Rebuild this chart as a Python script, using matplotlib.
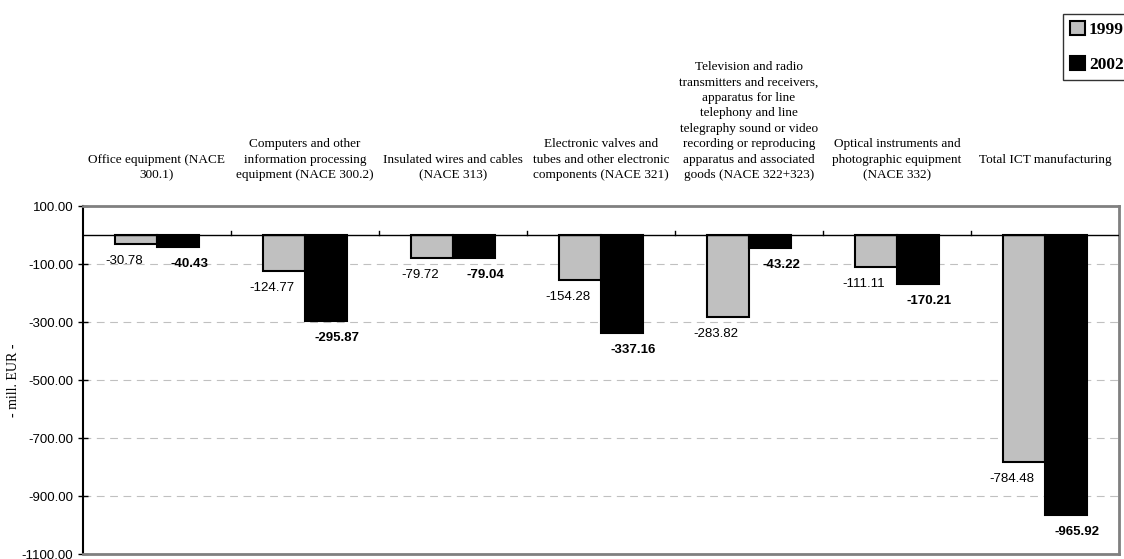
import matplotlib.pyplot as plt
import numpy as np

categories = [
    "Office equipment (NACE\n300.1)",
    "Computers and other\ninformation processing\nequipment (NACE 300.2)",
    "Insulated wires and cables\n(NACE 313)",
    "Electronic valves and\ntubes and other electronic\ncomponents (NACE 321)",
    "Television and radio\ntransmitters and receivers,\napparatus for line\ntelephony and line\n"
    "telegraphy sound or video\nrecording or reproducing\napparatus and associated\ngoods (NACE 322+323)",
    "Optical instruments and\nphotographic equipment\n(NACE 332)",
    "Total ICT manufacturing\n ",
]
vals_1999 = [-30.78, -124.77, -79.72, -154.28, -283.82, -111.11, -784.48]
vals_2002 = [-40.43, -295.87, -79.04, -337.16, -43.22, -170.21, -965.92]
yticks = [100, -100, -300, -500, -700, -900, -1100]

serif = ['Liberation Serif', 'DejaVu Serif']
sans = ['Liberation Sans', 'DejaVu Sans']

fig = plt.figure(figsize=(11.24, 5.59), dpi=100)
ax = fig.add_axes([83 / 1124, 1 - 554 / 559, 1036 / 1124, 348 / 559])

x = np.arange(len(categories))
w = 0.285
b1 = ax.bar(x - w / 2, vals_1999, w, color='#c0c0c0', edgecolor='black', linewidth=1.5, zorder=3)
b2 = ax.bar(x + w / 2, vals_2002, w, color='black', edgecolor='black', linewidth=1.5, zorder=3)

ax.set_xlim(-0.5, len(categories) - 0.5)
ax.set_ylim(-1100, 100)
ax.set_yticks(yticks)
ax.set_yticklabels(['%.2f' % t for t in yticks], fontfamily=sans, fontsize=9.5)
ax.tick_params(axis='y', direction='inout', length=7, width=1)
ax.set_xticks([])

# dashed gridlines, solid zero line with small category ticks
for t in yticks[1:-1]:
    ax.axhline(t, color='#c0c0c0', linestyle=(0, (7, 5)), linewidth=0.8, zorder=1)
ax.axhline(0, color='black', linewidth=1, zorder=4)
for b in np.arange(0.5, len(categories) - 0.5):
    ax.plot([b, b], [0, 14], color='black', linewidth=1, zorder=4)

for s in ['top', 'bottom', 'right']:
    ax.spines[s].set_color('#808080')
    ax.spines[s].set_linewidth(2)
ax.spines['left'].set_color('black')
ax.spines['left'].set_linewidth(1.5)

# value labels under the bar ends
for xi, v in zip(x, vals_1999):
    ax.annotate('%.2f' % v, (xi - w / 2, v), xytext=(-12, -17), textcoords='offset pixels',
                ha='center', va='center', fontsize=9.5, fontfamily=sans)
for xi, v in zip(x, vals_2002):
    ax.annotate('%.2f' % v, (xi + w / 2, v), xytext=(11, -17), textcoords='offset pixels',
                ha='center', va='center', fontsize=9.5, fontfamily=sans, fontweight='bold')

# category names above the plot area
for xi, c in zip(x, categories):
    ax.annotate(c, (xi, 100), xytext=(0, 25), textcoords='offset pixels', ha='center',
                va='bottom', fontsize=9.5, fontfamily=serif, linespacing=1.38,
                annotation_clip=False)

ax.set_ylabel('- mill. EUR -', fontfamily=serif, fontsize=10)
ax.yaxis.set_label_coords(-63 / 1036, 0.5)

leg = fig.legend([b1, b2], ['1999', '2002'], loc='upper left',
                 bbox_to_anchor=(1063 / 1124, 1 - 14 / 559),
                 prop={'family': serif, 'weight': 'bold', 'size': 12.5},
                 frameon=True, fancybox=False, edgecolor='black',
                 handlelength=0.85, handleheight=0.85, handletextpad=0.25,
                 borderpad=0.4, labelspacing=1.05, borderaxespad=0)
leg.get_frame().set_linewidth(1)

fig.savefig('out.png', dpi=100)
